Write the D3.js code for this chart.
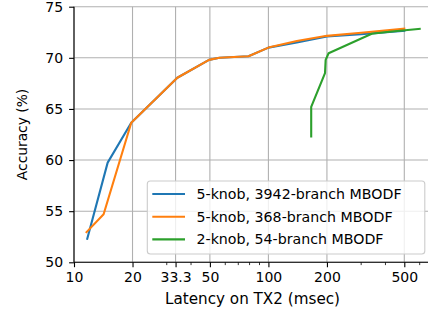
<!DOCTYPE html>
<html>
<head>
<meta charset="utf-8">
<script src="https://cdn.jsdelivr.net/npm/d3@7"></script>
<style>
  body { margin: 0; background: #fff; }
  text { font-family: "DejaVu Sans", sans-serif; fill: #000; }
</style>
</head>
<body>
<div id="chart"></div>
<script>
// data (latency msec, accuracy %)
const seriesNames = ['5-knob, 3942-branch MBODF', '5-knob, 368-branch MBODF', '2-knob, 54-branch MBODF'];
const colors = ['#1f77b4', '#ff7f0e', '#2ca02c'];

const blueLatency = [11.7, 14.9, 19.7, 34, 49.5, 56, 79, 100, 140, 200, 300, 500];
const blueAcc     = [52.3, 59.75, 63.65, 68.05, 69.8, 70.0, 70.15, 71.0, 71.5, 72.1, 72.3, 72.65];

const orangeLatency = [11.6, 14.2, 19.7, 34, 49.5, 56, 79, 100, 140, 200, 300, 500];
const orangeAcc     = [52.95, 54.7, 63.65, 68.05, 69.8, 70.0, 70.15, 71.0, 71.65, 72.15, 72.45, 72.85];

const greenLatency = [166, 166, 195.5, 197, 204, 340, 420, 600];
const greenAcc     = [62.3, 65.2, 68.5, 69.8, 70.45, 72.35, 72.55, 72.83];

const xTicks = [10, 20, 33.3, 50, 100, 200, 500];
const xMinorTicks = [30, 40, 60, 70, 80, 90, 300, 400, 600];
const yTicks = [50, 55, 60, 65, 70, 75];

const W = 428, H = 312;
const plotL = 74, plotT = 6.7, plotB = 262.3, plotR = 431;

const svg = d3.select('#chart').append('svg')
  .attr('width', W).attr('height', H);

const x = d3.scaleLog().domain([10, 686]).range([plotL, plotR]);
const y = d3.scaleLinear().domain([50, 75]).range([plotB, plotT]);

// grid
const grid = svg.append('g').attr('stroke', '#b0b0b0').attr('stroke-width', 1.1);
grid.selectAll('line.v').data(xTicks).join('line')
  .attr('class', 'v')
  .attr('x1', d => x(d)).attr('x2', d => x(d))
  .attr('y1', plotT).attr('y2', plotB);
grid.selectAll('line.h').data(yTicks).join('line')
  .attr('class', 'h')
  .attr('x1', plotL).attr('x2', plotR)
  .attr('y1', d => y(d)).attr('y2', d => y(d));

// series
const allSeries = [
  blueLatency.map((v, i) => [v, blueAcc[i]]),
  orangeLatency.map((v, i) => [v, orangeAcc[i]]),
  greenLatency.map((v, i) => [v, greenAcc[i]])
];
const line = d3.line().x(d => x(d[0])).y(d => y(d[1]));
svg.append('g').selectAll('path').data(allSeries).join('path')
  .attr('d', line)
  .attr('fill', 'none')
  .attr('stroke', (d, i) => colors[i])
  .attr('stroke-width', 2.1)
  .attr('stroke-linejoin', 'round')
  .attr('stroke-linecap', 'square');

// axes
const xAxis = d3.axisBottom(x).tickValues(xTicks).tickFormat(d => d).tickSize(4.9).tickPadding(5);
const gx = svg.append('g').attr('transform', `translate(0,${plotB})`).call(xAxis);
gx.selectAll('.minor').data(xMinorTicks).join('line')
  .attr('class', 'minor')
  .attr('x1', d => x(d)).attr('x2', d => x(d))
  .attr('y1', 0).attr('y2', 2.8)
  .attr('stroke', '#000').attr('stroke-width', 0.8);

const yAxis = d3.axisLeft(y).tickValues(yTicks).tickSize(4.9).tickPadding(6);
const gy = svg.append('g').attr('transform', `translate(${plotL},0)`).call(yAxis);

[gx, gy].forEach(g => {
  g.select('.domain').attr('stroke', '#000').attr('stroke-width', 1.1);
  g.selectAll('.tick line').attr('stroke', '#000').attr('stroke-width', 1.1);
  g.selectAll('.tick text').style('font-size', '14px').attr('fill', '#000')
    .style('font-family', '"DejaVu Sans", sans-serif');
});
gx.select('.domain').attr('d', `M${plotL},0H${plotR}`);
gy.select('.domain').attr('d', `M0,${plotB}V${plotT}`);

// axis labels
svg.append('text')
  .attr('x', 252.5).attr('y', 304)
  .attr('text-anchor', 'middle')
  .style('font-size', '15.2px')
  .text('Latency on TX2 (msec)');
svg.append('text')
  .attr('transform', `translate(27,${(plotT + plotB) / 2}) rotate(-90)`)
  .attr('text-anchor', 'middle')
  .style('font-size', '13.8px')
  .text('Accuracy (%)');

// legend
const legend = svg.append('g');
legend.append('rect')
  .attr('x', 147.3).attr('y', 181).attr('width', 277.5).attr('height', 73)
  .attr('rx', 3)
  .attr('fill', 'rgba(255,255,255,0.8)')
  .attr('stroke', '#cccccc').attr('stroke-width', 1.1);
const rows = legend.selectAll('g.row').data(seriesNames).join('g')
  .attr('class', 'row')
  .attr('transform', (d, i) => `translate(0,${194 + i * 22.7})`);
rows.append('line')
  .attr('x1', 152.3).attr('x2', 185)
  .attr('stroke', (d, i) => colors[i]).attr('stroke-width', 2.1);
rows.append('text')
  .attr('x', 196.5).attr('dy', '0.35em')
  .style('font-size', '14.2px')
  .text(d => d);
</script>
</body>
</html>
